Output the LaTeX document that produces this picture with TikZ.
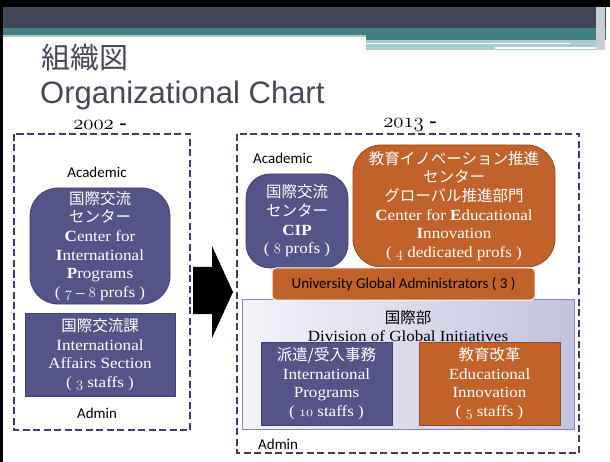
\documentclass[tikz,border=0pt]{standalone}
\usepackage{fontspec}
\setmainfont{Liberation Serif}[FakeStretch=1.1]
\newfontfamily\jp{Noto Sans CJK JP}
\newfontfamily\calfont{Carlito}
\newfontfamily\titlefont{Liberation Sans}
\newcommand\osn[1]{{\fontencoding{OML}\fontfamily{lmm}\fontseries{m}\fontshape{it}\selectfont #1}}
\newcommand\osb[1]{{\fontencoding{OML}\fontfamily{lmm}\fontseries{b}\fontshape{it}\selectfont #1}}
\definecolor{cdark}{HTML}{424457}
\definecolor{cteal}{HTML}{437F82}
\definecolor{clight}{HTML}{AACCCC}
\definecolor{cstrip}{HTML}{C8D0D4}
\definecolor{ctitle}{HTML}{474758}
\definecolor{cblue}{HTML}{545488}
\definecolor{cblueb}{HTML}{3F3F70}
\definecolor{corange}{HTML}{C1622B}
\definecolor{corangeb}{HTML}{9A4A1E}
\definecolor{cdash}{HTML}{3C3C6E}
\definecolor{cdivl}{HTML}{F4F4FA}
\definecolor{cdivr}{HTML}{C2C2DF}
\definecolor{cdivb}{HTML}{8585B5}
\tikzset{
  boxtext/.style={align=center, inner sep=0pt, font=\fontsize{15.5}{18.6}\selectfont},
  bluebox/.style={boxtext, fill=cblue, draw=cblueb, line width=0.8pt, text=white},
  orangebox/.style={boxtext, fill=corange, draw=corangeb, line width=0.8pt, text=white},
  dashbox/.style={draw=cdash, line width=2.3pt, dash pattern=on 7pt off 3.5pt},
  lbl/.style={font=\calfont\fontsize{15}{18}\selectfont, inner sep=0pt},
  yearlbl/.style={font=\fontsize{20}{24}\selectfont, inner sep=0pt},
}
\begin{document}
\begin{tikzpicture}[x=1pt,y=-1pt]
\useasboundingbox (0,0) rectangle (610,462);
\fill[white] (0,0) rectangle (610,462);
% header bands
\fill[black] (0,0) rectangle (610,7);
\fill[black] (0,0) rectangle (3,462);
\fill[cdark] (3,7) rectangle (606,28);
\fill[cteal] (3,28) rectangle (366,35);
\fill[cteal] (366,28) rectangle (606,40);
\fill[clight] (3,35) rectangle (366,37);
\fill[clight] (366,40) rectangle (596,50);
\fill[white] (366,43) rectangle (570,44.5);
\fill[white] (495,47.5) rectangle (606,49);
\fill[cstrip] (596,7) rectangle (605,50);
% title
\node[anchor=base west, inner sep=0pt, text=ctitle, font=\jp\fontsize{29}{32}\selectfont] (t1) at (41,69) {組織図};
\node[anchor=base west, inner sep=0pt, text=ctitle, font=\titlefont\fontsize{31}{34}\selectfont] (t2) at (40,104) {Organizational Chart};
% years
\node[yearlbl] (y02) at (100,125) {\osb{2002} \textbf{-}};
\node[yearlbl] (y13) at (410,125) {\osb{2013} \textbf{-}};
% dashed frames
\draw[dashbox] (14,134) rectangle (190,430);
\draw[dashbox] (237,134) rectangle (579,453);
% left side
\node[lbl] (acad1) at (97,172) {Academic};
\node[bluebox, rounded corners=28pt, minimum width=140pt, minimum height=116pt] (cip02) at (100,246)
  {{\jp 国際交流}\\{\jp センター}\\\textbf{C}enter for\\\textbf{I}nternational\\\textbf{P}rograms\\( \osn{7} – \osn{8} profs )};
\node[bluebox, minimum width=150pt, minimum height=83pt] (ias) at (100,354.5)
  {{\jp 国際交流課}\\International\\Affairs Section\\( \osn{3} staffs )};
\node[lbl] (adm1) at (97,413) {Admin};
% arrow
\fill[black] (193,267) -- (212,267) -- (212,246) -- (233,292) -- (212,338) -- (212,314) -- (193,314) -- cycle;
% right side
\node[lbl, anchor=west] (acad2) at (253,158) {Academic};
\node[bluebox, rounded corners=24pt, minimum width=102pt, minimum height=94pt] (cip13) at (297,221)
  {{\jp 国際交流}\\{\jp センター}\\\textbf{CIP}\\( \osn{8} profs )};
\node[orangebox, rounded corners=28pt, minimum width=202pt, minimum height=122pt] (cei) at (454,206)
  {{\jp 教育イノベーション推進}\\{\jp センター}\\{\jp グローバル推進部門}\\\textbf{C}enter for \textbf{E}ducational\\\textbf{I}nnovation\\( \osn{4} dedicated profs )};
\node[draw=cdivb, line width=0.8pt, left color=cdivl, right color=cdivr, minimum width=332pt, minimum height=130pt, inner sep=0pt] (dgi) at (408,364) {};
\node[boxtext, text=black] (dgit) at (408,326) {{\jp 国際部}\\Division of Global Initiatives};
\node[bluebox, minimum width=131pt, minimum height=83pt] (ip) at (326.5,383.5)
  {{\jp 派遣/受入事務}\\International\\Programs\\( \osn{10} staffs )};
\node[orangebox, minimum width=141pt, minimum height=83pt] (ei) at (489.5,383.5)
  {{\jp 教育改革}\\Educational\\Innovation\\( \osn{5} staffs )};
\node[fill=corange, draw=white, line width=1pt, rounded corners=4pt, minimum width=263pt, minimum height=32pt, inner sep=0pt, font=\calfont\fontsize{15}{18}\selectfont] (uga) at (403.5,284) {University Global Administrators ( 3 )};
\node[lbl, anchor=west] (adm2) at (258,444) {Admin};
\end{tikzpicture}
\end{document}
